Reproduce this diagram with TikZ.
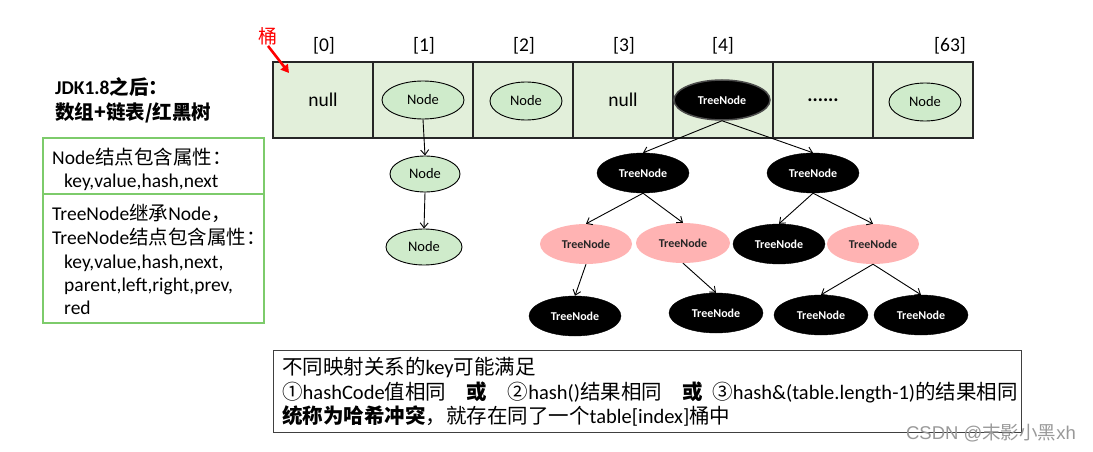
\documentclass[tikz,border=0pt]{standalone}
\usepackage{fontspec}
\setmainfont{Carlito}
\newfontfamily\cjk{Noto Sans CJK SC}
\newfontfamily\wmfont{Liberation Sans}
\usetikzlibrary{shapes.geometric,arrows.meta}
\definecolor{cellg}{HTML}{E2EFDA}
\definecolor{nodeg}{HTML}{CFEBCB}
\definecolor{pinkn}{HTML}{FFB3B3}
\definecolor{boxg}{HTML}{7DCB6B}
\definecolor{redarrow}{HTML}{FF0000}
\begin{document}
\begin{tikzpicture}[x=1pt,y=-1pt,
  cell/.style={draw=black!85,line width=1.2pt,fill=cellg,minimum width=100pt,minimum height=76pt,inner sep=0pt,font=\fontsize{19.5}{22}\selectfont},
  idx/.style={font=\fontsize{19.5}{22}\selectfont},
  gnode/.style={ellipse,draw=black,line width=0.9pt,fill=nodeg,inner sep=0pt,minimum height=38pt,font=\fontsize{14.5}{16}\selectfont},
  bnode/.style={ellipse,fill=black,draw=black,inner sep=0pt,minimum width=92pt,minimum height=40pt,text=white,font=\bfseries\fontsize{12}{14}\selectfont},
  pnode/.style={ellipse,fill=pinkn,inner sep=0pt,minimum width=92pt,minimum height=40pt,text=black!85,font=\bfseries\fontsize{12}{14}\selectfont},
  arr/.style={line width=0.9pt,-{Straight Barb[length=5pt,width=8pt]}},
  lt/.style={anchor=base west,inner sep=0pt,font=\fontsize{19.5}{22}\selectfont},
  bt/.style={anchor=base west,inner sep=0pt,font=\fontsize{20.5}{23}\selectfont},
  hd/.style={anchor=base west,inner sep=0pt,font=\bfseries\fontsize{19.5}{22}\selectfont}
]
\useasboundingbox (0,0) rectangle (1093,452);
\fill[white] (0,0) rectangle (1093,452);

% array cells
\node[cell] (c0) at (323,100) {null};
\node[cell] (c1) at (423,100) {};
\node[cell] (c2) at (523,100) {};
\node[cell] (c3) at (623,100) {null};
\node[cell] (c4) at (723,100) {};
\node[cell] (c5) at (823,100) {\textbf{......}};
\node[cell] (c6) at (923,100) {};

% index labels
\node[idx] (l0) at (324,46) {[0]};
\node[idx] (l1) at (424,46) {[1]};
\node[idx] (l2) at (524,46) {[2]};
\node[idx] (l3) at (624,46) {[3]};
\node[idx] (l4) at (723,46) {[4]};
\node[idx] (l6) at (950,46) {[63]};

% bucket label
\node[text=redarrow,font=\cjk\fontsize{19}{21}\selectfont,inner sep=1pt] (tong) at (268,36) {桶};
\coordinate (tongtip) at (289,73);
\draw[redarrow,line width=2.6pt,-{Triangle[length=8pt,width=9pt]}] (tong.south) -- (tongtip);

% nodes in cells
\node[gnode,minimum width=82pt] (n1) at (423,100) {Node};
\node[gnode,minimum width=72pt] (n2) at (526,101) {Node};
\node[bnode,minimum width=96pt,line width=1.5pt,draw=black!70] (t4) at (722,100) {TreeNode};
\node[gnode,minimum width=72pt] (n6) at (925,102) {Node};

% linked list
\node[gnode,minimum width=70pt,minimum height=36pt] (n1a) at (425,174) {Node};
\node[gnode,minimum width=76pt,minimum height=36pt] (n1b) at (424,247) {Node};
\draw[arr] (n1.south) -- (n1a.north);
\draw[arr] (n1a.south) -- (n1b.north);

% tree
\node[bnode] (tl) at (643,173) {TreeNode};
\node[bnode] (tr) at (813,173) {TreeNode};
\node[pnode] (pl) at (586,244) {TreeNode};
\node[pnode,minimum width=94pt] (pm) at (683,243) {TreeNode};
\node[bnode] (bm) at (779,244) {TreeNode};
\node[pnode] (pr) at (873,244) {TreeNode};
\node[bnode] (b1) at (575,316) {TreeNode};
\node[bnode,minimum width=94pt] (b2) at (716,313) {TreeNode};
\node[bnode,minimum width=94pt] (b3) at (821,315) {TreeNode};
\node[bnode,minimum width=94pt] (b4) at (921,315) {TreeNode};

\draw[arr] (t4.south) -- (tl.north);
\draw[arr] (t4.south) -- (tr.north);
\draw[arr] (tl.south) -- (pl.north);
\draw[arr] (tl.south) -- (pm.north);
\draw[arr] (tr.south) -- (bm.north);
\draw[arr] (tr.south) -- (pr.north);
\draw[arr] (pl.south) -- (b1.north);
\draw[arr] (pm.south) -- (b2.north);
\draw[arr] (pr.south) -- (b3.north);
\draw[arr] (pr.south) -- (b4.north);

% heading
\node[hd] (h1) at (55,95) {JDK1.8{\cjk 之后：}};
\node[hd] (h2) at (55,120) {\cjk 数组+链表/红黑树};

% green box
\node[draw=boxg,line width=1.2pt,minimum width=221pt,minimum height=56pt,inner sep=0pt] (gb1) at (153.5,166) {};
\node[draw=boxg,line width=1.2pt,minimum width=221pt,minimum height=129pt,inner sep=0pt] (gb2) at (153.5,258.5) {};
\node[lt] (g1) at (52,164) {Node{\cjk 结点包含属性：}};
\node[lt] (g2) at (64,187) {key,value,hash,next};
\node[lt] (g3) at (52,220) {TreeNode{\cjk 继承}Node{\cjk ，}};
\node[lt] (g4) at (52,244) {TreeNode{\cjk 结点包含属性：}};
\node[lt] (g5) at (64,268) {key,value,hash,next,};
\node[lt] (g6) at (64,291) {parent,left,right,prev,};
\node[lt] (g7) at (64,314) {red};

% bottom box
\node[draw=black!75,line width=1pt,minimum width=748pt,minimum height=82pt,inner sep=0pt] (bb) at (647,391) {};
\node[bt] (bt1) at (282,374) {{\cjk 不同映射关系的}key{\cjk 可能满足}};
\node[bt] (bt2) at (282,399) {{\cjk ①}hashCode{\cjk 值相同\quad \textbf{或}\quad ②}hash(){\cjk 结果相同\quad \textbf{或}\ \ ③}hash\&(table.length-1){\cjk 的结果相同}};
\node[bt] (bt3) at (282,423) {{\cjk \textbf{统称为哈希冲突}，就存在同了一个}table[index]{\cjk 桶中}};

% watermark
\node[text=black!40,font=\wmfont\fontsize{18.5}{20}\selectfont,inner sep=0pt] (wm) at (991,433) {CSDN @{\cjk 末影小黑}xh};
\end{tikzpicture}
\end{document}
